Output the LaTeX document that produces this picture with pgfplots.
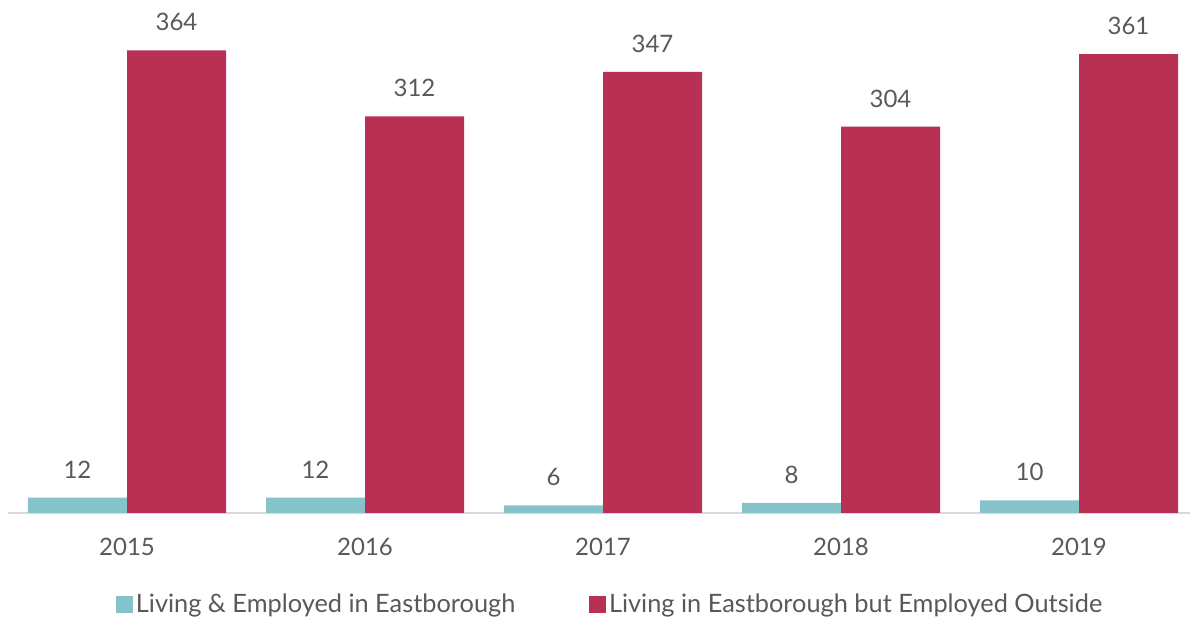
\documentclass[border=0pt]{standalone}
\usepackage{fontspec}
\setmainfont{Lato}
\usepackage{pgfplots}
\pgfplotsset{compat=1.18}
\definecolor{teal1}{HTML}{86C2C9}
\definecolor{crim}{HTML}{B83054}
\definecolor{txt}{HTML}{595959}
\definecolor{axl}{HTML}{D9D9D9}
\begin{document}
\begin{tikzpicture}
\useasboundingbox (0pt,0pt) rectangle (892.5pt,467.25pt);
\begin{axis}[
  at={(6pt,82.5pt)}, anchor=south west,
  scale only axis, width=886.5pt, height=384.75pt,
  ybar=0pt, bar width=74.25pt,
  xmin=-0.5, xmax=4.4664, ymin=0, ymax=403.6,
  hide y axis,
  axis x line*=bottom,
  x axis line style={axl, line width=1.2pt},
  xtick=data, xticklabels={2015,2016,2017,2018,2019},
  major tick length=0pt,
  xticklabel style={font=\fontsize{18}{20}\selectfont, text=txt, yshift=-15.5pt},
  /pgf/number format/assume math mode=true,
  nodes near coords,
  every node near coord/.append style={font=\fontsize{18}{20}\selectfont, text=txt, yshift=11pt},
  clip=false,
  legend columns=2,
  legend style={draw=none, at={(0.5095,-0.178)}, anchor=center, font=\fontsize{19}{21}\selectfont, text=txt,
    /tikz/every even column/.append style={column sep=53pt}},
  legend image code/.code={\fill[#1] (0pt,-6.4pt) rectangle (12.75pt,6.4pt);},
]
\addplot[fill=teal1, draw=none] coordinates {(0,12) (1,12) (2,6) (3,8) (4,10)};
\addplot[fill=crim, draw=none] coordinates {(0,364) (1,312) (2,347) (3,304) (4,361)};
\legend{\hspace{0.5pt}Living \& Employed in Eastborough, \hspace{0.5pt}Living in Eastborough but Employed Outside}
\end{axis}
\end{tikzpicture}
\end{document}
